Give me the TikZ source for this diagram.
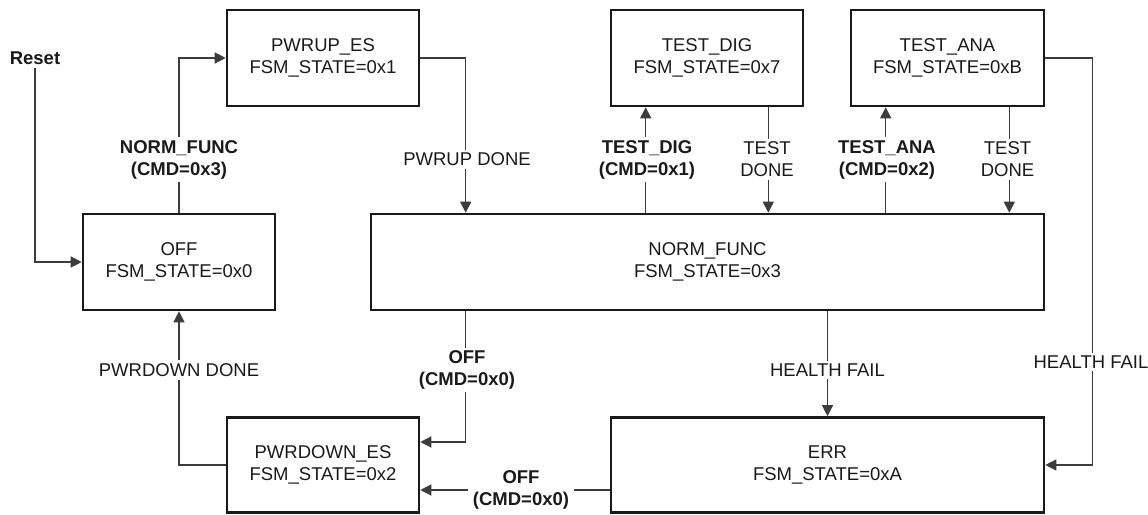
\documentclass[tikz,border=0pt]{standalone}
\usepackage{fontspec}
\setmainfont{Liberation Sans}
\usetikzlibrary{arrows.meta}
\definecolor{linegray}{RGB}{60,60,60}
\definecolor{ink}{RGB}{26,26,26}
\begin{document}
\begin{tikzpicture}[x=1pt,y=-1pt,
  font=\fontsize{18.5}{22}\selectfont, text=ink,
  state/.style={draw=ink, line width=2.6pt, minimum width=192pt, minimum height=96pt,
    inner sep=0pt, align=center, fill=white},
  conn/.style={draw=linegray, line width=1.3pt, -{Triangle[length=11pt,width=11pt]}},
  lbl/.style={fill=white, inner xsep=5pt, inner ysep=3pt, align=center},
  blbl/.style={lbl, font=\fontsize{18.5}{22}\selectfont\bfseries}]
\fill[white] (0,0) rectangle (1148,514);
\useasboundingbox (0,0) rectangle (1148,514);

% states
\node[state] (pwrup) at (323,58) {PWRUP\_ES\\FSM\_STATE=0x1};
\node[state] (off) at (179,262) {OFF\\FSM\_STATE=0x0};
\node[state] (testdig) at (707,58) {TEST\_DIG\\FSM\_STATE=0x7};
\node[state, minimum width=193pt] (testana) at (947.5,58) {TEST\_ANA\\FSM\_STATE=0xB};
\node[state, minimum width=673pt] (norm) at (707.5,262) {NORM\_FUNC\\FSM\_STATE=0x3};
\node[state, minimum height=95pt] (pwrdown) at (323,465) {PWRDOWN\_ES\\FSM\_STATE=0x2};
\node[state, minimum width=433pt, minimum height=95pt] (err) at (827.5,465) {ERR\\FSM\_STATE=0xA};
\node[font=\fontsize{18.5}{22}\selectfont\bfseries, inner sep=3pt] (reset) at (35,58) {Reset};

% helper coordinates
\coordinate (tdu) at ([xshift=36pt]testdig.south west);
\coordinate (tdd) at ([xshift=-36pt]testdig.south east);
\coordinate (tau) at ([xshift=36pt]testana.south west);
\coordinate (tad) at ([xshift=-36pt]testana.south east);
\coordinate (hf) at ([xshift=47pt]testana.east);
\coordinate (nin) at ([xshift=96pt]norm.north west);
\coordinate (nout) at ([xshift=96pt]norm.south west);

% connectors
\draw[conn] (reset.south) |- (off.west);
\draw[conn] (off.north) |- (pwrup.west);
\draw[conn] (pwrup.east) -| (nin);
\draw[conn] (tdu |- norm.north) -- (tdu);
\draw[conn] (tdd) -- (tdd |- norm.north);
\draw[conn] (tau |- norm.north) -- (tau);
\draw[conn] (tad) -- (tad |- norm.north);
\draw[conn] (testana.east) -- (hf) |- (err.east);
\draw[conn] (err.north |- norm.south) -- (err.north);
\draw[conn] (nout) |- ([yshift=23pt]pwrdown.east);
\draw[conn] ([yshift=-25pt]err.west) -- ([yshift=-25pt]pwrdown.east);
\draw[conn] (pwrdown.west) -| (off.south);

% labels
\node[blbl] (lnf) at (179,159.5) {NORM\_FUNC\\(CMD=0x3)};
\node[lbl] (lpu) at (467,159.5) {PWRUP DONE};
\node[blbl] (ltd) at (647,159.5) {TEST\_DIG\\(CMD=0x1)};
\node[lbl] (ltdd) at (767,159.5) {TEST\\DONE};
\node[blbl] (lta) at (887,159.5) {TEST\_ANA\\(CMD=0x2)};
\node[lbl] (ltad) at (1007.5,159.5) {TEST\\DONE};
\node[lbl] (lhf1) at (827.5,370) {HEALTH FAIL};
\node[lbl] (lhf2) at (1091,362) {HEALTH FAIL};
\node[blbl] (loff1) at (467,370) {OFF\\(CMD=0x0)};
\node[blbl] (loff2) at (521,490) {OFF\\(CMD=0x0)};
\node[lbl] (lpd) at (179,370) {PWRDOWN DONE};
\end{tikzpicture}
\end{document}
